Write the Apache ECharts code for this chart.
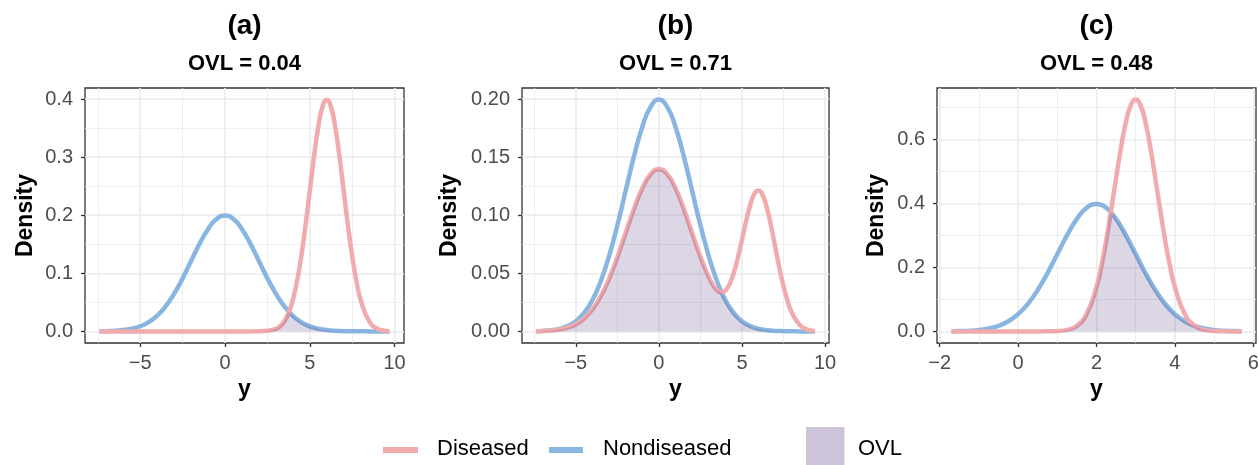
<!DOCTYPE html>
<html><head><meta charset="utf-8">
<script src="https://cdn.jsdelivr.net/npm/echarts@6.0.0/dist/echarts.min.js"></script>
<style>html,body{margin:0;padding:0;background:#fff}#chart{width:1260px;height:465px}</style>
</head><body><div id="chart"></div>
<script>
// ---------- data ----------
// Panel (a)
const xA = [-7.4,-7,-6.5,-6,-5.5,-5,-4.5,-4,-3.5,-3,-2.5,-2,-1.5,-1,-0.5,0,0.5,1,1.5,2,2.5,3,3.25,3.5,3.77,4,4.25,4.5,4.75,5,5.25,5.5,5.75,6,6.25,6.5,6.75,7,7.25,7.5,7.75,8,8.5,9,9.5,9.7];
const nondiseasedA = [0.0002,0.0004,0.0010,0.0022,0.0045,0.0088,0.0159,0.0270,0.0432,0.0648,0.0913,0.1210,0.1506,0.1760,0.1933,0.1995,0.1933,0.1760,0.1506,0.1210,0.0913,0.0648,0.0533,0.0432,0.0337,0.0270,0.0209,0.0159,0.0119,0.0088,0.0064,0.0045,0.0032,0.0022,0.0015,0.0010,0.0007,0.0004,0.0003,0.0002,0.0001,0.0001,0,0,0,0];
const diseasedA = [0,0,0,0,0,0,0,0,0,0,0,0,0,0,0,0,0,0,0,0.0001,0.0009,0.0044,0.0091,0.0175,0.0332,0.0540,0.0863,0.1295,0.1826,0.2420,0.3011,0.3521,0.3867,0.3989,0.3867,0.3521,0.3011,0.2420,0.1826,0.1295,0.0863,0.0540,0.0175,0.0044,0.0009,0.0004];
const ovlA = [0,0,0,0,0,0,0,0,0,0,0,0,0,0,0,0,0,0,0,0.0001,0.0009,0.0044,0.0091,0.0175,0.0332,0.0270,0.0209,0.0159,0.0119,0.0088,0.0064,0.0045,0.0032,0.0022,0.0015,0.0010,0.0007,0.0004,0.0003,0.0002,0.0001,0.0001,0,0,0,0];
const xTicksA = [-5,0,5,10], xMinorA = [-7.5,-2.5,2.5,7.5];
const yTicksA = [0,0.1,0.2,0.3,0.4], yMinorA = [0.05,0.15,0.25,0.35];

// Panel (b)
const xB = [-7.4,-7,-6.5,-6,-5.5,-5,-4.5,-4,-3.5,-3,-2.5,-2,-1.5,-1,-0.5,0,0.5,1,1.5,2,2.5,3,3.25,3.5,3.77,4,4.25,4.5,4.75,5,5.25,5.5,5.75,6,6.25,6.5,6.75,7,7.25,7.5,7.75,8,8.5,9,9.4];
const nondiseasedB = [0.0002,0.0004,0.0010,0.0022,0.0045,0.0088,0.0159,0.0270,0.0432,0.0648,0.0913,0.1210,0.1506,0.1760,0.1933,0.1995,0.1933,0.1760,0.1506,0.1210,0.0913,0.0648,0.0533,0.0432,0.0337,0.0270,0.0209,0.0159,0.0119,0.0088,0.0064,0.0045,0.0032,0.0022,0.0015,0.0010,0.0007,0.0004,0.0003,0.0002,0.0001,0.0001,0,0,0];
const diseasedB = [0.0001,0.0003,0.0007,0.0016,0.0032,0.0061,0.0111,0.0189,0.0302,0.0453,0.0639,0.0847,0.1054,0.1232,0.1353,0.1396,0.1353,0.1232,0.1054,0.0847,0.0642,0.0467,0.0400,0.0355,0.0336,0.0351,0.0405,0.0500,0.0631,0.0787,0.0948,0.1088,0.1183,0.1212,0.1171,0.1063,0.0908,0.0729,0.0550,0.0390,0.0260,0.0163,0.0053,0.0013,0.0004];
const ovlB = [0.0001,0.0003,0.0007,0.0016,0.0032,0.0061,0.0111,0.0189,0.0302,0.0453,0.0639,0.0847,0.1054,0.1232,0.1353,0.1396,0.1353,0.1232,0.1054,0.0847,0.0642,0.0467,0.0400,0.0355,0.0336,0.0270,0.0209,0.0159,0.0119,0.0088,0.0064,0.0045,0.0032,0.0022,0.0015,0.0010,0.0007,0.0004,0.0003,0.0002,0.0001,0.0001,0,0,0];
const xTicksB = [-5,0,5,10], xMinorB = [-7.5,-2.5,2.5,7.5];
const yTicksB = [0,0.05,0.1,0.15,0.2], yMinorB = [0.025,0.075,0.125,0.175];

// Panel (c)
const xC = [-1.7,-1.5,-1.25,-1,-0.75,-0.5,-0.25,0,0.25,0.5,0.75,1,1.25,1.5,1.75,2,2.125,2.25,2.37,2.5,2.625,2.75,2.875,3,3.125,3.25,3.375,3.5,3.625,3.75,3.875,4,4.25,4.5,4.75,5,5.25,5.5,5.7];
const nondiseasedC = [0.0004,0.0009,0.0020,0.0044,0.0091,0.0175,0.0317,0.0540,0.0863,0.1295,0.1826,0.2420,0.3011,0.3521,0.3867,0.3989,0.3958,0.3867,0.3725,0.3521,0.3282,0.3011,0.2720,0.2420,0.2119,0.1826,0.1550,0.1295,0.1066,0.0863,0.0688,0.0540,0.0317,0.0175,0.0091,0.0044,0.0020,0.0009,0.0004];
const diseasedC = [0,0,0,0,0,0,0,0,0,0,0.0002,0.0010,0.0046,0.0176,0.0548,0.1389,0.2046,0.2863,0.3765,0.4799,0.5750,0.6542,0.7069,0.7254,0.7069,0.6542,0.5750,0.4799,0.3803,0.2863,0.2046,0.1389,0.0548,0.0176,0.0046,0.0010,0.0002,0,0];
const ovlC = [0,0,0,0,0,0,0,0,0,0,0.0002,0.0010,0.0046,0.0175,0.0548,0.1389,0.2046,0.2863,0.3725,0.3521,0.3282,0.3011,0.2720,0.2420,0.2119,0.1826,0.1550,0.1295,0.1066,0.0863,0.0688,0.0540,0.0317,0.0175,0.0046,0.0010,0.0002,0,0];
const xTicksC = [-2,0,2,4,6], xMinorC = [-1,1,3,5];
const yTicksC = [0,0.2,0.4,0.6], yMinorC = [0.1,0.3,0.5,0.7];

const panelTags = ['(a)','(b)','(c)'];
const ovlTexts = ['OVL = 0.04','OVL = 0.71','OVL = 0.48'];
const legendNames = ['Diseased','Nondiseased','OVL'];

// ---------- layout & style ----------
const FONT = '"Liberation Sans", Arial, Helvetica, sans-serif';
const PINK = '#F2ABAD', BLUE = '#88B6E1', OVLFILL = 'rgba(98,72,140,0.32)';
const panels = [
  {x:xA, dis:diseasedA, non:nondiseasedA, ovl:ovlA, xT:xTicksA, xM:xMinorA, yT:yTicksA, yM:yMinorA, xR:[-8.255,10.555], yR:[-0.02,0.419], dig:1, left:85, width:319, nameGap:48},
  {x:xB, dis:diseasedB, non:nondiseasedB, ovl:ovlB, xT:xTicksB, xM:xMinorB, yT:yTicksB, yM:yMinorB, xR:[-8.24,10.24], yR:[-0.01,0.2095], dig:2, left:522, width:307, nameGap:61},
  {x:xC, dis:diseasedC, non:nondiseasedC, ovl:ovlC, xT:xTicksC, xM:xMinorC, yT:yTicksC, yM:yMinorC, xR:[-2.07,6.07], yR:[-0.0363,0.7617], dig:1, left:937, width:319, nameGap:49}
];
const TOP = 88, HEIGHT = 255;
const fmtX = v => v < 0 ? '\u2212' + Math.abs(v) : String(v);

const grid = [], xAxis = [], yAxis = [], series = [], graphic = [];
panels.forEach((p, i) => {
  grid.push({left:p.left, top:TOP, width:p.width, height:HEIGHT, show:true, borderColor:'#333333', borderWidth:1.3, backgroundColor:'transparent', containLabel:false, outerBoundsMode:'none'});
  // major x
  xAxis.push({gridIndex:i, type:'value', min:p.xR[0], max:p.xR[1], position:'bottom',
    axisLine:{show:false, onZero:false},
    axisTick:{show:true, length:4, lineStyle:{color:'#333333', width:1.3}, customValues:p.xT},
    axisLabel:{customValues:p.xT, formatter:fmtX, color:'#4D4D4D', fontSize:20, fontFamily:FONT, margin:10},
    splitLine:{show:true, lineStyle:{color:'#EBEBEB', width:1.6}},
    name:'y', nameLocation:'middle', nameGap:35,
    nameTextStyle:{fontSize:23, fontWeight:'bold', color:'#000', fontFamily:FONT}});
  // minor x
  xAxis.push({gridIndex:i, type:'value', min:p.xR[0], max:p.xR[1], position:'bottom',
    axisLine:{show:false, onZero:false}, axisTick:{show:false, customValues:p.xM}, axisLabel:{show:false, customValues:p.xM},
    splitLine:{show:true, lineStyle:{color:'#EBEBEB', width:0.8}}});
  // major y
  yAxis.push({gridIndex:i, type:'value', min:p.yR[0], max:p.yR[1], position:'left',
    axisLine:{show:false, onZero:false},
    axisTick:{show:true, length:4, lineStyle:{color:'#333333', width:1.3}, customValues:p.yT},
    axisLabel:{customValues:p.yT, formatter:(v => v.toFixed(p.dig)), color:'#4D4D4D', fontSize:20, fontFamily:FONT, margin:12},
    splitLine:{show:true, lineStyle:{color:'#EBEBEB', width:1.6}},
    name:'Density', nameLocation:'middle', nameGap:p.nameGap, nameRotate:90,
    nameTextStyle:{fontSize:23, fontWeight:'bold', color:'#000', fontFamily:FONT}});
  // minor y
  yAxis.push({gridIndex:i, type:'value', min:p.yR[0], max:p.yR[1], position:'left',
    axisLine:{show:false, onZero:false}, axisTick:{show:false, customValues:p.yM}, axisLabel:{show:false, customValues:p.yM},
    splitLine:{show:true, lineStyle:{color:'#EBEBEB', width:0.8}}});

  const xi = 2 * i, yi = 2 * i;
  series.push({type:'line', name:legendNames[1], xAxisIndex:xi, yAxisIndex:yi, showSymbol:false, smooth:0.5, silent:true,
    lineStyle:{color:BLUE, width:4.5}, data:p.x.map((x, k) => [x, p.non[k]]), z:3});
  series.push({type:'line', name:legendNames[0], xAxisIndex:xi, yAxisIndex:yi, showSymbol:false, smooth:0.5, silent:true,
    lineStyle:{color:PINK, width:4.5}, data:p.x.map((x, k) => [x, p.dis[k]]), z:4});
  series.push({type:'line', name:legendNames[2], xAxisIndex:xi, yAxisIndex:yi, showSymbol:false, smooth:0.4, silent:true,
    lineStyle:{width:0, opacity:0}, areaStyle:{color:OVLFILL, origin:0}, data:p.x.map((x, k) => [x, p.ovl[k]]), z:5});

  const cx = p.left + p.width / 2;
  graphic.push({type:'text', x:cx, y:26, style:{text:panelTags[i], font:'bold 28px ' + FONT, fill:'#000', textAlign:'center', textVerticalAlign:'middle'}});
  graphic.push({type:'text', x:cx, y:64, style:{text:ovlTexts[i], font:'bold 22px ' + FONT, fill:'#000', textAlign:'center', textVerticalAlign:'middle'}});
});

// legend
const LY = 450;
graphic.push({type:'line', shape:{x1:383, y1:LY, x2:418, y2:LY}, style:{stroke:PINK, lineWidth:6}});
graphic.push({type:'text', x:437, y:448.5, style:{text:legendNames[0], font:'22px ' + FONT, fill:'#000', textAlign:'left', textVerticalAlign:'middle'}});
graphic.push({type:'line', shape:{x1:549, y1:LY, x2:583, y2:LY}, style:{stroke:BLUE, lineWidth:6}});
graphic.push({type:'text', x:603, y:448.5, style:{text:legendNames[1], font:'22px ' + FONT, fill:'#000', textAlign:'left', textVerticalAlign:'middle'}});
graphic.push({type:'rect', shape:{x:806, y:427, width:38.5, height:40}, style:{fill:OVLFILL}});
graphic.push({type:'text', x:858, y:448.5, style:{text:legendNames[2], font:'22px ' + FONT, fill:'#000', textAlign:'left', textVerticalAlign:'middle'}});

const chart = echarts.init(document.getElementById('chart'), null, {renderer:'canvas'});
chart.setOption({animation:false, backgroundColor:'#ffffff', grid, xAxis, yAxis, series, graphic});
</script></body></html>
